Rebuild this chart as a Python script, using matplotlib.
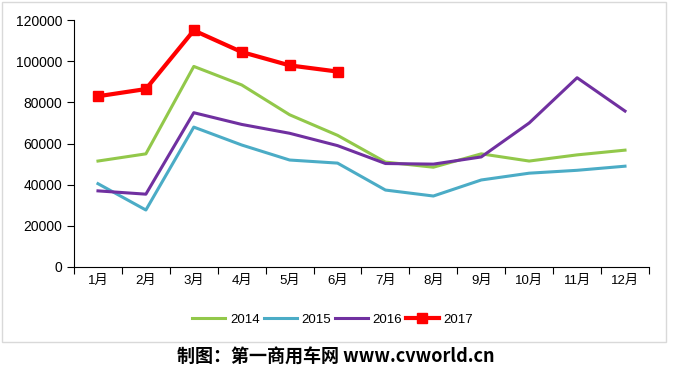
import matplotlib.pyplot as plt
from matplotlib.patches import Rectangle

months = ['1月', '2月', '3月', '4月', '5月', '6月', '7月', '8月', '9月', '10月', '11月', '12月']
sales_2014 = [51500, 55000, 97500, 88500, 74000, 64000, 51000, 48500, 55000, 51500, 54500, 56800]
sales_2015 = [40500, 27700, 68000, 59300, 52000, 50500, 37400, 34500, 42300, 45600, 47000, 49000]
sales_2016 = [37000, 35400, 75000, 69300, 65000, 59000, 50300, 50000, 53500, 70000, 92000, 75800]
sales_2017 = [83000, 86500, 115000, 104500, 98000, 95000]

plt.rcParams['font.family'] = ['Liberation Sans', 'Noto Sans CJK SC']

fig = plt.figure(figsize=(6.76, 3.80), dpi=100)
ax = fig.add_axes([0.1095, 0.2974, 0.8505, 0.6496])

x_all = [i + 0.5 for i in range(12)]
x_2017 = [i + 0.5 for i in range(len(sales_2017))]

ax.plot(x_all, sales_2014, color='#92c84a', linewidth=2.2, label='2014')
ax.plot(x_all, sales_2015, color='#4bacc6', linewidth=2.2, label='2015')
ax.plot(x_all, sales_2016, color='#7030a0', linewidth=2.2, label='2016')
ax.plot(x_2017, sales_2017, color='#ff0000', linewidth=3, marker='s', markersize=7, label='2017')

ax.set_xlim(0, 12)
ax.set_ylim(0, 120000)
ax.set_yticks(range(0, 120001, 20000))
ax.set_xticks(range(13))
ax.set_xticklabels([])
ax.set_xticks(x_all, minor=True)
ax.set_xticklabels(months, minor=True)
ax.tick_params(axis='x', which='minor', length=0, pad=6, labelsize=9.5)
ax.tick_params(axis='x', which='major', length=5, direction='out')
ax.tick_params(axis='y', length=5, direction='out', labelsize=10)

for s in ['top', 'right']:
    ax.spines[s].set_visible(False)
for s in ['left', 'bottom']:
    ax.spines[s].set_color('black')

ax.legend(loc='upper center', bbox_to_anchor=(0.45, -0.14), ncol=4, frameon=False,
          fontsize=9.5, handlelength=2.5, columnspacing=0.3, handletextpad=0.35)

fig.patches.append(Rectangle((2 / 676, 1 - 342 / 380), 664 / 676, 340 / 380,
                             transform=fig.transFigure, fill=False,
                             edgecolor='#d9d9d9', linewidth=1))

fig.text(0.497, 1 - 357 / 380, '制图：第一商用车网 www.cvworld.cn', ha='center', va='center',
         fontsize=13, fontweight='bold', family=['Noto Sans CJK SC'])

plt.savefig('out.png', dpi=100)
